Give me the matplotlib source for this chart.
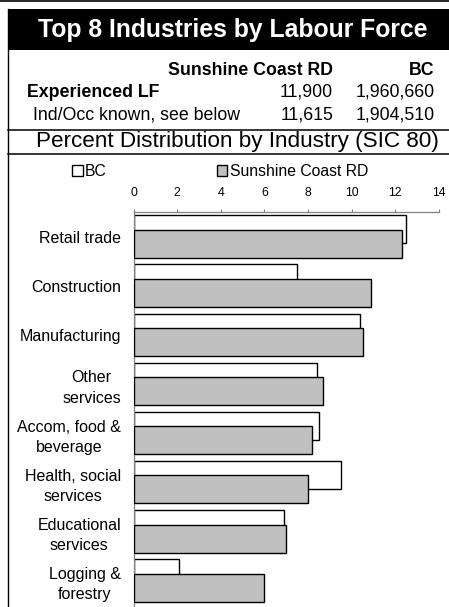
import numpy as np
import matplotlib
matplotlib.use("Agg")
import matplotlib.pyplot as plt
from matplotlib.patches import Rectangle, Patch

plt.rcParams['font.family'] = ['Liberation Sans', 'DejaVu Sans']

# data
industries = ["Retail trade", "Construction", "Manufacturing", "Other\nservices",
              "Accom, food &\nbeverage", "Health, social\nservices",
              "Educational\nservices", "Logging &\nforestry"]
bc = [12.5, 7.5, 10.4, 8.4, 8.5, 9.5, 6.9, 2.1]
scrd = [12.3, 10.9, 10.5, 8.7, 8.2, 8.0, 7.0, 6.0]
xticks = [0, 2, 4, 6, 8, 10, 12, 14]

header_cols = ["Sunshine Coast RD", "BC"]
lf_rows = ["Experienced LF", "Ind/Occ known, see below"]
lf_scrd = ["11,900", "11,615"]
lf_bc = ["1,960,660", "1,904,510"]

W, H = 449, 607
fig = plt.figure(figsize=(W / 100, H / 100), dpi=100)

def fx(x):
    return x / W

def fy(y):
    return 1 - y / H

# frame lines and title band
fig.add_artist(plt.Line2D([0, 1], [fy(0.5), fy(0.5)], color='black', lw=1.2))
fig.add_artist(Rectangle((fx(8), fy(50)), 1 - fx(8), fy(8.7) - fy(50),
                         facecolor='black', edgecolor='none'))
fig.add_artist(plt.Line2D([fx(8), fx(8)], [0, fy(8.7)], color='black', lw=1.0))
for yy in [129.5, 153.5]:
    fig.add_artist(plt.Line2D([fx(8), 1], [fy(yy), fy(yy)], color='black', lw=1.1))

fig.text(fx(233), fy(37.3), "Top 8 Industries by Labour Force", color='white',
         fontsize=17.8, fontweight='bold', ha='center', va='baseline')

# header table
fig.text(fx(333), fy(75), header_cols[0], fontsize=12.8, fontweight='bold',
         ha='right', va='baseline')
fig.text(fx(435), fy(75), header_cols[1], fontsize=12.8, fontweight='bold',
         ha='right', va='baseline')
fig.text(fx(27), fy(96.7), lf_rows[0], fontsize=12.8, fontweight='bold',
         ha='left', va='baseline')
fig.text(fx(33), fy(119), lf_rows[1], fontsize=12.8, ha='left', va='baseline')
for i, yy in enumerate([96.7, 119]):
    fig.text(fx(333), fy(yy), lf_scrd[i], fontsize=12.8, ha='right', va='baseline')
    fig.text(fx(435), fy(yy), lf_bc[i], fontsize=12.8, ha='right', va='baseline')

fig.text(fx(237), fy(146.7), "Percent Distribution by Industry (SIC 80)",
         fontsize=16.2, ha='center', va='baseline')

# bar chart
ax = fig.add_axes([fx(133.5), 0, fx(439) - fx(133.5), fy(212)])
y = np.arange(len(industries))
h = 0.57
off = 0.148
ax.barh(y - off, bc, height=h, color='white', edgecolor='black', lw=1.0,
        label='BC', zorder=2)
ax.barh(y + off, scrd, height=h, color='#c0c0c0', edgecolor='black', lw=1.0,
        label='Sunshine Coast RD', zorder=3)

ax.set_xlim(0, 14)
ax.set_ylim(7.54, -0.5)
ax.set_xticks(xticks)
ax.xaxis.tick_top()
ax.tick_params(axis='x', length=2.5, width=0.8, color='#808080', pad=6.5,
               labelsize=8.8)
ax.set_yticks(y)
ax.set_yticklabels(industries, fontsize=11.5, multialignment='center',
                   linespacing=1.45)
ax.tick_params(axis='y', length=0, pad=9)
for s in ['right', 'bottom']:
    ax.spines[s].set_visible(False)
for s in ['left', 'top']:
    ax.spines[s].set_color('#808080')
    ax.spines[s].set_linewidth(0.9)

handles = [Patch(facecolor='white', edgecolor='black', lw=1.0),
           Patch(facecolor='#c0c0c0', edgecolor='black', lw=1.0)]
fig.legend(handles, ['BC', 'Sunshine Coast RD'], loc='lower left',
           bbox_to_anchor=(fx(72), fy(179)), ncol=2, frameon=False,
           fontsize=11.3, handlelength=0.68, handleheight=0.68,
           handletextpad=0.15, columnspacing=7.0, borderpad=0,
           borderaxespad=0)

fig.savefig("out.png", dpi=100)
